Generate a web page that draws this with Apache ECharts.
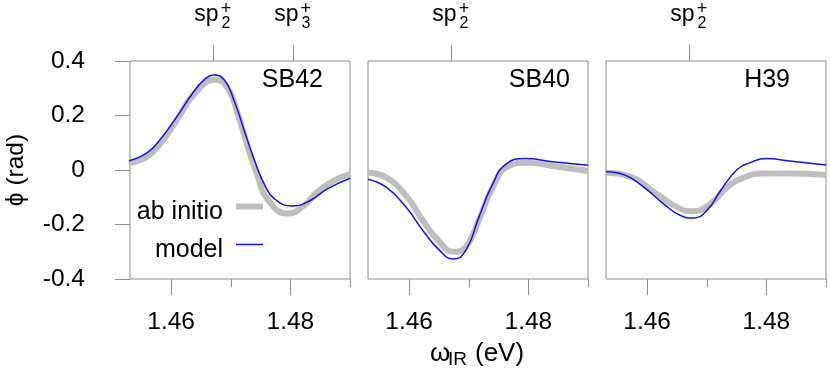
<!DOCTYPE html>
<html lang="en">
<head>
<meta charset="UTF-8">
<title>phase vs IR frequency</title>
<script src="https://cdn.jsdelivr.net/npm/echarts@6/dist/echarts.min.js"></script>
<style>
  html, body { margin: 0; padding: 0; background: #fff; }
  #chart { width: 830px; height: 368px; }
</style>
</head>
<body>
<div id="chart"></div>
<script>
// panel names and the sp markers on the top axis
var panelNames = ['SB42', 'SB40', 'H39'];
var topTickValues = [[1.4671, 1.4805], [1.4671], [1.4671]];
var topTickIndex = [['2', '3'], ['2'], ['2']];
var xMajorTicks = [1.46, 1.48];
var xMinorTicks = [1.47, 1.49];

// SB42
var sb42ModelX = [1.4529, 1.456, 1.4582, 1.461, 1.4638, 1.4655, 1.4671, 1.4689, 1.4705, 1.4722, 1.4739, 1.4756, 1.4773, 1.4803, 1.4834, 1.4862, 1.490];
var sb42ModelY = [0.034, 0.064, 0.113, 0.197, 0.288, 0.330, 0.349, 0.331, 0.258, 0.149, 0.040, -0.051, -0.105, -0.132, -0.111, -0.069, -0.030];
var sb42AbX = [1.4529, 1.456, 1.4582, 1.461, 1.4638, 1.4674, 1.4695, 1.4711, 1.4728, 1.4745, 1.4761, 1.4795, 1.4823, 1.4845, 1.4873, 1.490];
var sb42AbY = [0.025, 0.050, 0.097, 0.185, 0.276, 0.331, 0.300, 0.210, 0.088, -0.021, -0.105, -0.160, -0.130, -0.081, -0.039, -0.015];

// SB40
var sb40ModelX = [1.4531, 1.4562, 1.4595, 1.4623, 1.4651, 1.4674, 1.4695, 1.4717, 1.474, 1.4762, 1.4795, 1.484, 1.490];
var sb40ModelY = [-0.034, -0.064, -0.137, -0.222, -0.295, -0.327, -0.295, -0.173, -0.052, 0.021, 0.042, 0.030, 0.017];
var sb40AbX = [1.4531, 1.4562, 1.4595, 1.4623, 1.4651, 1.4675, 1.4695, 1.4717, 1.474, 1.4767, 1.4798, 1.484, 1.490];
var sb40AbY = [-0.010, -0.028, -0.095, -0.185, -0.264, -0.300, -0.282, -0.185, -0.064, 0.015, 0.027, 0.015, -0.004];

// H39
var h39ModelX = [1.4531, 1.4562, 1.4595, 1.4628, 1.4656, 1.4677, 1.470, 1.4723, 1.4751, 1.4773, 1.480, 1.4839, 1.490];
var h39ModelY = [-0.006, -0.018, -0.064, -0.125, -0.167, -0.176, -0.149, -0.076, 0.002, 0.027, 0.042, 0.033, 0.018];
var h39AbX = [1.4531, 1.4573, 1.4612, 1.4651, 1.4677, 1.4706, 1.4734, 1.4762, 1.4795, 1.4839, 1.490];
var h39AbY = [-0.010, -0.025, -0.082, -0.137, -0.151, -0.125, -0.064, -0.028, -0.013, -0.013, -0.018];

var modelX = [sb42ModelX, sb40ModelX, h39ModelX];
var modelY = [sb42ModelY, sb40ModelY, h39ModelY];
var abX = [sb42AbX, sb40AbX, h39AbX];
var abY = [sb42AbY, sb40AbY, h39AbY];

var font = "'Liberation Sans', Arial, Helvetica, sans-serif";
var axisGray = '#8c8c8c';
var lineGray = '#bebebe';
var lineBlue = '#1010f0';
var gridLefts = [130, 368, 606];

function pairs(xs, ys) {
    return xs.map(function (x, i) { return [x, ys[i]]; });
}

function nearestIndex(list, v) {
    var k = 0;
    list.forEach(function (t, j) {
        if (Math.abs(t - v) < Math.abs(list[k] - v)) k = j;
    });
    return k;
}

var grid = [];
var xAxis = [];
var yAxis = [];
var series = [];
var graphic = [];

for (var p = 0; p < 3; p++) {
    grid.push({
        left: gridLefts[p], top: 59, width: 220, height: 220,
        show: true, borderColor: axisGray, borderWidth: 1
    });

    var base = {
        gridIndex: p, type: 'value', min: 1.4531, max: 1.49,
        axisLine: {show: false, onZero: false}, splitLine: {show: false}
    };
    // major ticks with labels
    xAxis.push(Object.assign({}, base, {
        position: 'bottom',
        axisTick: {show: true, customValues: xMajorTicks, length: 16, lineStyle: {color: axisGray}},
        axisLabel: {
            customValues: xMajorTicks, margin: 31, fontSize: 24.5, color: '#000', fontFamily: font,
            formatter: function (v) { return v.toFixed(2); }
        }
    }));
    // minor ticks
    xAxis.push(Object.assign({}, base, {
        position: 'bottom',
        axisTick: {show: true, customValues: xMinorTicks, length: 8, lineStyle: {color: axisGray}},
        axisLabel: {show: false}
    }));
    // top: sp markers, built from three label layers
    (function (pp) {
        xAxis.push(Object.assign({}, base, {
            position: 'top',
            axisTick: {show: true, customValues: topTickValues[pp], length: 16, lineStyle: {color: axisGray}},
            axisLabel: {
                customValues: topTickValues[pp], margin: 34, color: '#000', fontFamily: font,
                fontSize: 23, lineHeight: 24, padding: [0, 14, 0, 0],
                formatter: function () { return 'sp'; }
            }
        }));
        xAxis.push(Object.assign({}, base, {
            position: 'top',
            axisTick: {show: false},
            axisLabel: {
                customValues: topTickValues[pp], margin: 29, color: '#000', fontFamily: font,
                fontSize: 16, lineHeight: 16, padding: [0, 0, 0, 25],
                formatter: function (v) { return topTickIndex[pp][nearestIndex(topTickValues[pp], v)]; }
            }
        }));
        xAxis.push(Object.assign({}, base, {
            position: 'top',
            axisTick: {show: false},
            axisLabel: {
                customValues: topTickValues[pp], margin: 43, color: '#000', fontFamily: font,
                fontSize: 18, lineHeight: 18, padding: [0, 0, 0, 25],
                formatter: function () { return '+'; }
            }
        }));
    })(p);

    yAxis.push({
        gridIndex: p, type: 'value', min: -0.4, max: 0.4, interval: 0.2,
        axisLine: {show: false, onZero: false}, splitLine: {show: false},
        axisTick: {show: p === 0, length: 15, lineStyle: {color: axisGray}},
        axisLabel: {
            show: p === 0, margin: 45, fontSize: 24.5, color: '#000', fontFamily: font,
            formatter: function (v) { return Math.abs(v) < 1e-9 ? '0' : v.toFixed(1); }
        }
    });

    series.push({
        name: 'ab initio', type: 'line', smooth: true, showSymbol: false,
        xAxisIndex: p * 5, yAxisIndex: p,
        itemStyle: {color: lineGray},
        lineStyle: {color: lineGray, width: 6},
        data: pairs(abX[p], abY[p])
    });
    series.push({
        name: 'model', type: 'line', smooth: true, showSymbol: false,
        xAxisIndex: p * 5, yAxisIndex: p,
        itemStyle: {color: lineBlue},
        lineStyle: {color: lineBlue, width: 1.5},
        data: pairs(modelX[p], modelY[p])
    });
}

var labelRights = [323, 570, 790];
for (var q = 0; q < 3; q++) {
    graphic.push({
        type: 'text', x: labelRights[q], y: 80,
        style: {text: panelNames[q], fontSize: 25, fontFamily: font, fill: '#000', align: 'right', verticalAlign: 'middle'}
    });
}
graphic.push({
    type: 'text', x: 16, y: 170, rotation: Math.PI / 2,
    style: {text: '\u03d5 (rad)', fontSize: 24.5, fontFamily: font, fill: '#000', align: 'center', verticalAlign: 'middle'}
});
// x title: omega with subscript IR
graphic.push({
    type: 'text', x: 430, y: 354,
    style: {text: '\u03c9', fontSize: 26, fontFamily: font, fill: '#000', align: 'left', verticalAlign: 'middle'}
});
graphic.push({
    type: 'text', x: 448, y: 360,
    style: {text: 'IR', fontSize: 19, fontFamily: font, fill: '#000', align: 'left', verticalAlign: 'middle'}
});
graphic.push({
    type: 'text', x: 475, y: 354,
    style: {text: '(eV)', fontSize: 26, fontFamily: font, fill: '#000', align: 'left', verticalAlign: 'middle'}
});

var legendBase = {
    orient: 'vertical', align: 'right', right: 567, padding: 0, itemWidth: 27,
    selectedMode: false,
    textStyle: {fontSize: 25, color: '#000', fontFamily: font, padding: [0, 8, 0, 0]}
};

var option = {
    animation: false,
    backgroundColor: '#fff',
    grid: grid,
    xAxis: xAxis,
    yAxis: yAxis,
    series: series,
    graphic: graphic,
    legend: [
        Object.assign({}, legendBase, {
            data: [{name: 'ab initio', icon: 'path://M0,0H27V6H0ZM0,18H0.001V18Z'}],
            top: 200, itemHeight: 18
        }),
        Object.assign({}, legendBase, {
            data: [{name: 'model', icon: 'path://M0,0H27V1.5H0ZM0,13.5H0.001V13.5Z'}],
            top: 238, itemHeight: 14
        })
    ]
};

var myChart = echarts.init(document.getElementById('chart'));
myChart.setOption(option);
</script>
</body>
</html>
